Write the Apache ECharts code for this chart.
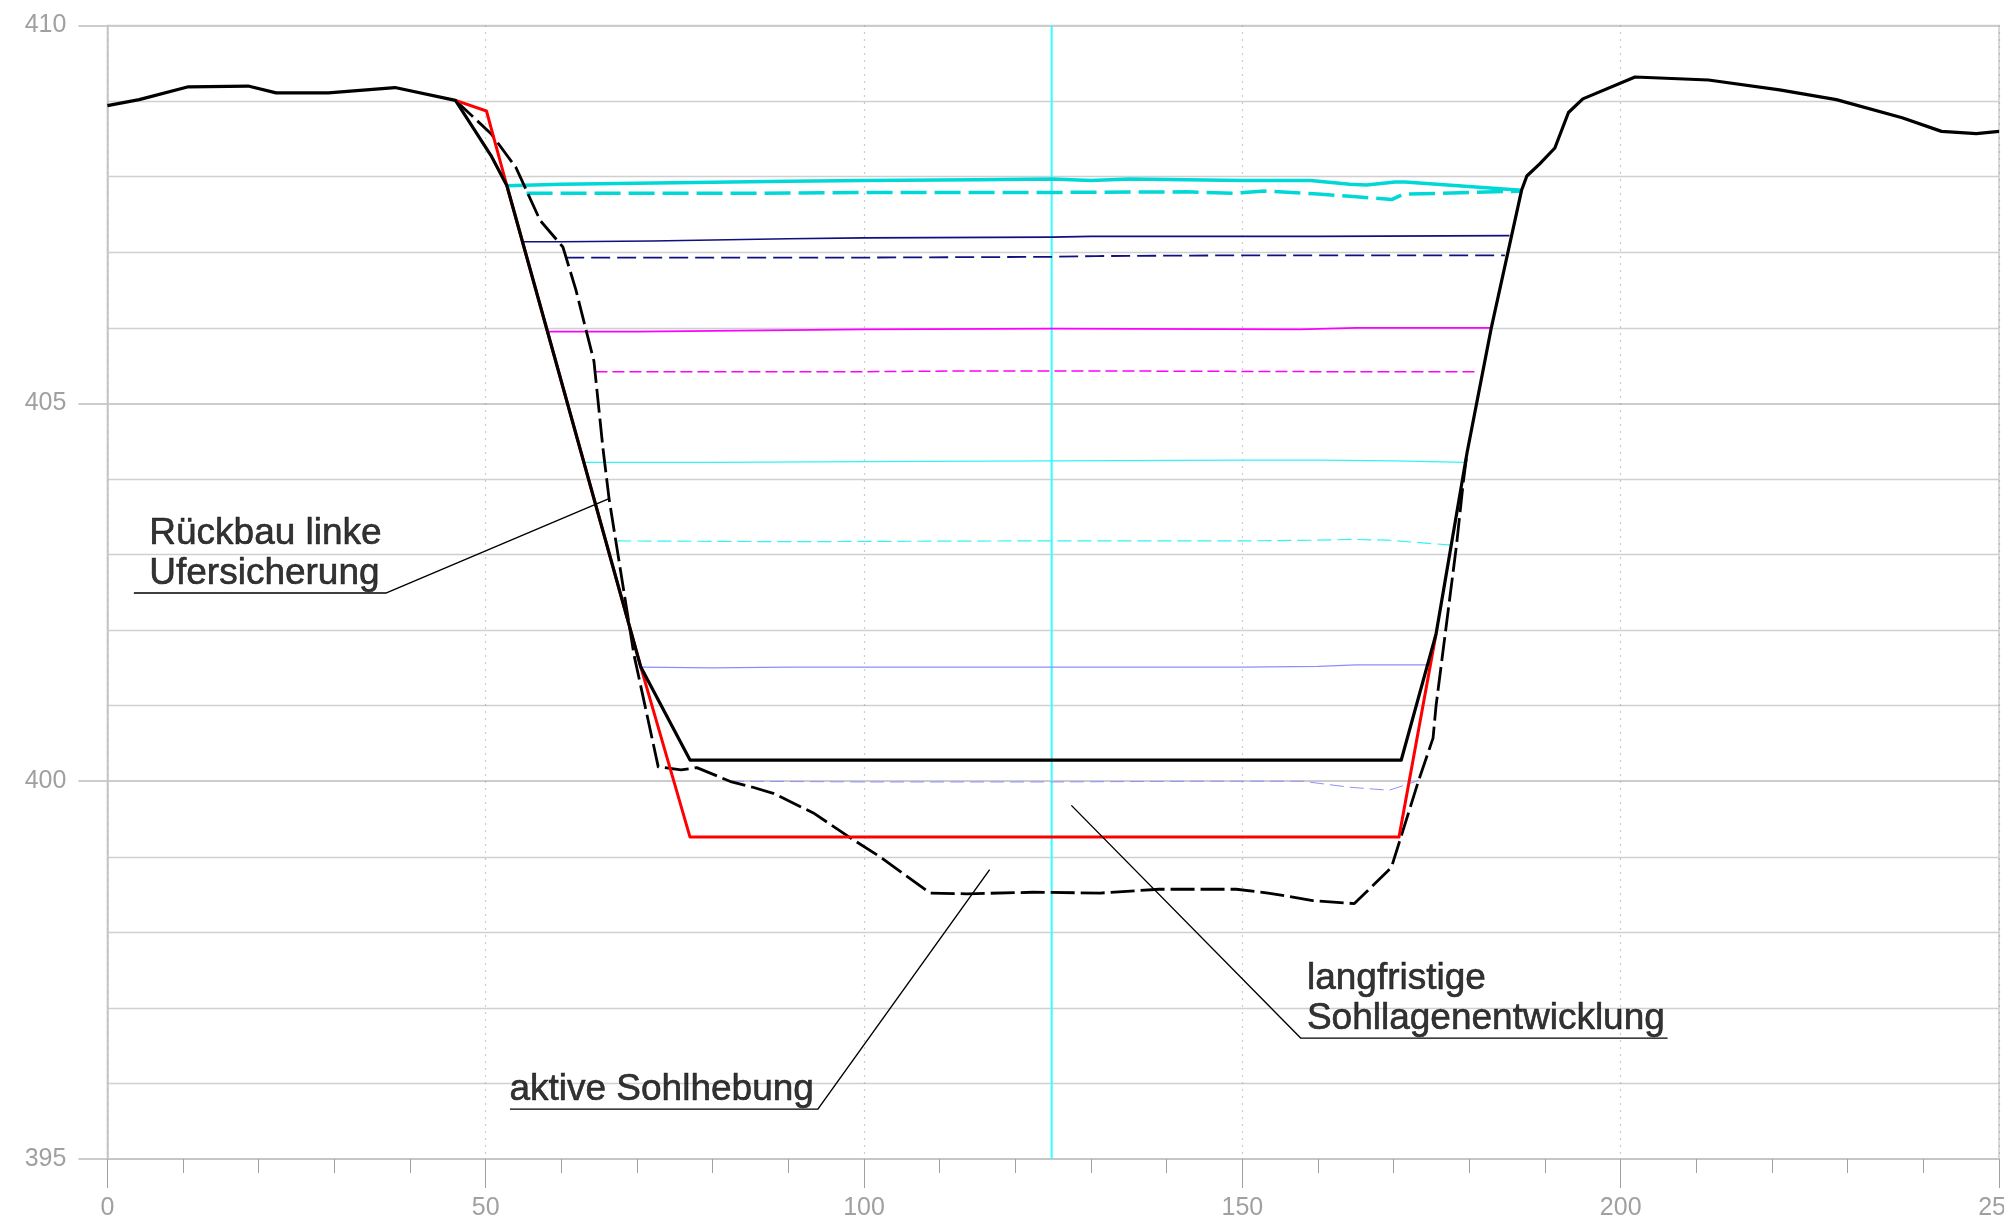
<!DOCTYPE html>
<html>
<head>
<meta charset="utf-8">
<script src="https://cdn.jsdelivr.net/npm/echarts@6/dist/echarts.min.js"></script>
<style>
html,body{margin:0;padding:0;background:#fff;}
#c{width:2004px;height:1221px;}
</style>
</head>
<body>
<div id="c"></div>
<script>
// ---------- data (station [m], elevation [m ü.NN]) ----------
const xTicks = [0, 50, 100, 150, 200, 250];
const yTicks = [395, 400, 405, 410];

// existing profile (terrain, black solid)
const terrain = [[0,408.94],[4.2,409.02],[10.7,409.19],[18.6,409.20],[22.3,409.11],[29.2,409.11],[38.0,409.18],[44.6,409.04],[46.0,409.01],
  [50.7,408.28],[52.8,407.88],[70.5,401.51],[77.0,400.28],[171.0,400.28],[175.6,401.95],[179.7,404.35],[182.9,406.0],[186.9,407.82],
  [187.6,408.01],[189.3,408.17],[191.3,408.38],[193.1,408.85],[195.0,409.03],[201.9,409.32],[211.6,409.28],[221.0,409.15],[228.5,409.02],
  [237.2,408.78],[242.4,408.6],[247.0,408.57],[250,408.60]];

// planned profile (red)
const planned = [[46.0,409.01],[50.1,408.87],[52.8,407.88],[70.5,401.51],[77.0,399.26],[170.7,399.26],[175.6,401.95]];

// long-term bed development (black dashed)
const longTerm = [[46.0,409.01],[50.7,408.57],[54.0,408.12],[57.2,407.42],[60.2,407.07],[61.9,406.51],[64.3,405.56],[65.5,404.40],
  [66.3,403.74],[69.6,401.67],[72.8,400.19],[75.8,400.15],[77.9,400.18],[82.5,399.99],[85.3,399.92],[88.0,399.84],[93.3,399.58],
  [98.2,399.25],[102.4,398.98],[108.7,398.52],[113.6,398.51],[122.3,398.53],[131.2,398.52],[139.0,398.57],[149.2,398.57],[153.4,398.52],
  [159.3,398.42],[164.8,398.38],[169.7,398.86],[173.3,400.01],[175.2,400.57],[175.6,401.0],[178.3,403.12],[179.2,403.96],[179.7,404.35]];

// water surface levels
const wsCyan = [[52.8,407.88],[60,407.90],[75,407.92],[90,407.94],[100,407.95],[115,407.96],[124.8,407.97],[130,407.95],[135,407.97],
  [150,407.95],[159,407.95],[164.2,407.90],[166.4,407.89],[170.2,407.93],[171.5,407.93],[186.9,407.82]];
const wsCyanD = [[55.4,407.78],[70,407.78],[85,407.78],[100,407.79],[120,407.79],[142.5,407.80],[148.9,407.78],[153.0,407.81],
  [160,407.77],[164.2,407.74],[167,407.72],[169.8,407.70],[171.3,407.77],[180,407.79],[186.9,407.81]];
const wsNavy = [[55.0,407.14],[60,407.14],[72,407.15],[90,407.18],[100,407.19],[124.8,407.20],[130,407.21],[160,407.21],[185.3,407.22]];
const wsNavyD = [[60.5,406.93],[75,406.93],[100,406.93],[125,406.94],[130.7,406.95],[150,406.96],[167.1,406.96],[184.7,406.96]];
const wsMagenta = [[58.2,405.95],[70,405.95],[100,405.98],[125,405.99],[157.6,405.98],[165,406.0],[182.8,406.0]];
const wsMagentaD = [[64.5,405.42],[80,405.42],[100,405.42],[115,405.43],[130,405.43],[160,405.42],[181.1,405.42]];
const wsLight = [[63.0,404.22],[80,404.22],[100,404.23],[125,404.24],[150,404.25],[160,404.25],[170,404.24],[179.6,404.22]];
const wsLightD = [[67.4,403.18],[90,403.17],[120,403.18],[150,403.18],[160,403.19],[164.7,403.20],[169.1,403.19],[178.3,403.12]];
const wsBlue = [[70.5,401.51],[80,401.50],[90,401.51],[100,401.51],[125,401.51],[150,401.51],[160,401.52],[165,401.54],[174.7,401.54]];
const wsBlueD = [[82.3,400.0],[100,399.99],[125,399.99],[145,400.0],[157.9,400.0],[164.2,399.92],[169.4,399.88],[173.3,400.01]];

// axis station marker
const axisStation = 124.8;

// annotations: text, text anchor [x, y], leader polyline
const notes = [
  { text: 'Rückbau linke\nUfersicherung', at: [5.6, 402.49], leader: [[3.5,402.49],[36.8,402.49],[66.3,403.74]] },
  { text: 'aktive Sohlhebung', at: [53.2, 395.66], leader: [[53.2,395.66],[93.9,395.66],[116.6,398.83]] },
  { text: 'langfristige\nSohllagenentwicklung', at: [158.6, 396.60], leader: [[206.2,396.60],[157.7,396.60],[127.4,399.68]] }
];

// ---------- chart ----------
const chart = echarts.init(document.getElementById('c'), null, { renderer: 'canvas' });
const FONT = "'Liberation Sans', Arial, sans-serif";
const AXFONT = "'Liberation Sans Narrow', 'Arial Narrow', 'Liberation Sans', Arial, sans-serif";

function lineS(data, color, width, type, z) {
  return { type: 'line', data: data, showSymbol: false, symbol: 'none', silent: true, z: z || 2,
    lineStyle: { color: color, width: width, type: type || 'solid', cap: 'butt', join: 'round' } };
}

const series = [
  lineS([[axisStation, 395], [axisStation, 410]], '#33ffff', 2, 'solid', 1),
  lineS(wsBlueD, '#9090ff', 1, [14, 6], 2),
  lineS(wsBlue, '#8c8cff', 1.2, 'solid', 2),
  lineS(wsLightD, '#30f4f4', 1.2, [14, 6], 2),
  lineS(wsLight, '#30f4f4', 1.3, 'solid', 2),
  lineS(wsMagentaD, '#ff00ff', 1.5, [12, 5], 2),
  lineS(wsMagenta, '#ff00ff', 1.6, 'solid', 2),
  lineS(wsNavyD, '#101080', 1.8, [19, 7], 2),
  lineS(wsNavy, '#101080', 1.6, 'solid', 2),
  lineS(wsCyanD, '#00d8d8', 3.5, [26, 8], 2),
  lineS(wsCyan, '#00d8d8', 3.5, 'solid', 2),
  lineS(longTerm, '#000000', 2.8, [24, 6], 3),
  lineS(planned, '#ff0000', 3, 'solid', 4),
  lineS(terrain, '#000000', 3.2, 'solid', 5)
];

notes.forEach(function (n) {
  series.push(lineS(n.leader, '#000000', 1.4, 'solid', 6));
  series.push({
    type: 'scatter', data: [n.at], symbolSize: 1, silent: true, z: 7,
    itemStyle: { color: 'rgba(0,0,0,0)' },
    label: { show: true, formatter: n.text, position: [0, 1], align: 'left', verticalAlign: 'bottom',
      color: '#000000', fontSize: 37, lineHeight: 40, fontFamily: FONT,
      textBorderColor: '#000000', textBorderWidth: 0.6 }
  });
});

chart.setOption({
  animation: false,
  backgroundColor: '#ffffff',
  grid: { left: 107.4, right: 5, top: 25.6, bottom: 62, show: true, borderColor: '#cccccc', borderWidth: 1.5,
    containLabel: false, outerBoundsMode: 'none' },
  xAxis: {
    type: 'value', min: xTicks[0], max: xTicks[xTicks.length - 1], interval: 50,
    axisLine: { show: true, onZero: false, lineStyle: { color: '#c4c4c4', width: 1.5 } },
    axisTick: { show: true, length: 29, lineStyle: { color: '#a0a0a0', width: 1 } },
    minorTick: { show: true, splitNumber: 5, length: 14, lineStyle: { color: '#a0a0a0', width: 1 } },
    axisLabel: { color: '#a0a0a0', fontSize: 25, fontFamily: AXFONT, margin: 37, hideOverlap: false },
    splitLine: { show: true, lineStyle: { color: '#999999', width: 1.2, type: [1, 6] } },
    minorSplitLine: { show: false }
  },
  yAxis: {
    type: 'value', min: yTicks[0], max: yTicks[yTicks.length - 1], interval: 5,
    axisLine: { show: true, onZero: false, lineStyle: { color: '#c4c4c4', width: 1.5 } },
    axisTick: { show: true, length: 29, lineStyle: { color: '#cccccc', width: 2 } },
    minorTick: { show: false, splitNumber: 5 },
    axisLabel: { color: '#a0a0a0', fontSize: 25, fontFamily: AXFONT, margin: 41 },
    splitLine: { show: true, lineStyle: { color: '#cccccc', width: 2 } },
    minorSplitLine: { show: true, lineStyle: { color: '#d0d0d0', width: 1.4 } }
  },
  series: series
});
</script>
</body>
</html>
